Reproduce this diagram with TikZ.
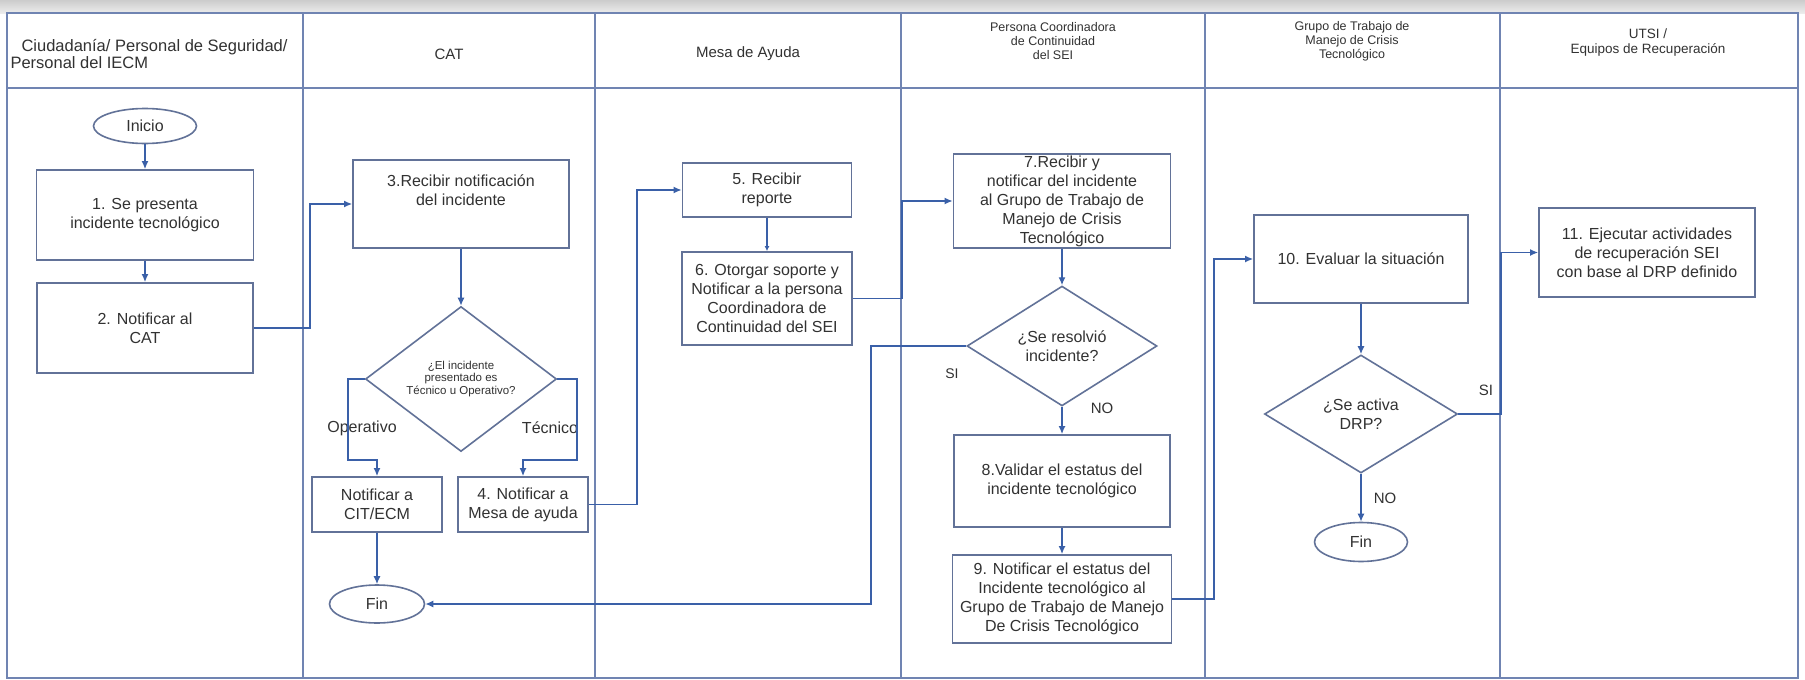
\documentclass[tikz,border=0pt]{standalone}
\usepackage{fontspec}
\setmainfont{Liberation Sans}
\usetikzlibrary{shapes.geometric,arrows.meta}
\definecolor{lanec}{RGB}{112,132,178}
\definecolor{boxc}{RGB}{98,114,152}
\definecolor{linkc}{RGB}{58,96,168}
\definecolor{txtc}{RGB}{50,50,50}

\begin{document}
\begin{tikzpicture}[x=1pt,y=-1pt,
  every node/.style={text=txtc},
  txt/.style={font=\fontsize{16}{19}\selectfont},
  stepbox/.style={draw=boxc, line width=1.8pt, fill=white, rectangle, align=center, inner sep=2pt, txt},
  term/.style={draw=boxc, line width=1.6pt, ellipse, fill=white, inner sep=0pt, txt},
  decide/.style={draw=boxc, line width=1.6pt, diamond, fill=white, inner sep=0pt, align=center, txt},
  link/.style={draw=linkc, line width=1.4pt, -{Latex[length=8pt,width=7pt]}},
  lane/.style={draw=lanec, line width=1.6pt},
  tag/.style={font=\fontsize{15}{18}\selectfont},
]
\useasboundingbox (0,0) rectangle (1805,680);
\fill[white] (0,0) rectangle (1805,680);
\fill[top color=gray!40, bottom color=gray!15] (0,0) rectangle (1805,13);

% swimlane frame
\draw[lane] (7,13) rectangle (1798,678);
\draw[lane] (7,88) -- (1798,88);
\foreach \lx in {303,595,901,1205,1500} \draw[lane] (\lx,13) -- (\lx,678);

% lane headings
\node[anchor=west, align=left, font=\fontsize{16.5}{15}\selectfont] (h1) at (7,54)
  {\hspace*{11pt}Ciudadanía/ Personal de Seguridad/\\Personal del IECM};
\node[font=\fontsize{15}{17}\selectfont] (h2) at (449,54) {CAT};
\node[font=\fontsize{15}{17}\selectfont] (h3) at (748,54) {Mesa de Ayuda};
\node[align=center, font=\fontsize{12.5}{14}\selectfont] (h4) at (1053,41)
  {Persona Coordinadora\\de Continuidad\\del SEI};
\node[align=center, font=\fontsize{12.5}{14}\selectfont] (h5) at (1352,41)
  {Grupo de Trabajo de\\Manejo de Crisis\\Tecnológico};
\node[align=center, font=\fontsize{13.5}{15}\selectfont] (h6) at (1648,43)
  {UTSI /\\Equipos de Recuperación};

% lane 1
\node[term, minimum width=103pt, minimum height=35pt] (ini) at (145,126) {Inicio};
\node[stepbox, minimum width=217pt, minimum height=90pt] (b1) at (145,215)
  {1. Se presenta\\incidente tecnológico};
\node[stepbox, minimum width=216pt, minimum height=90pt] (b2) at (145,328)
  {2. Notificar al\\CAT};

% lane 2
\node[stepbox, minimum width=216pt, minimum height=88pt] (b3) at (461,204)
  {\parbox[c][84pt][t]{210pt}{\centering\vspace*{13pt}3.Recibir notificación\\del incidente}};
\node[decide, minimum width=191pt, minimum height=118pt,
      font=\fontsize{11.5}{12.5}\selectfont] (d1) at (461,379)
  {¿El incidente\\presentado es\\Técnico u Operativo?};
\node[stepbox, minimum width=130pt, minimum height=55pt] (cit) at (377,504.5)
  {Notificar a\\CIT/ECM};
\node[stepbox, minimum width=130pt, minimum height=55pt] (b4) at (523,504.5)
  {4. Notificar a\\Mesa de ayuda};
\node[term, minimum width=95pt, minimum height=38pt] (fin1) at (377,604) {Fin};
\node[txt] (op) at (362,428) {Operativo};
\node[txt] (tec) at (550,428) {Técnico};

% lane 3
\node[stepbox, minimum width=169pt, minimum height=54pt] (b5) at (767,190)
  {5. Recibir\\reporte};
\node[stepbox, minimum width=170pt, minimum height=93pt] (b6) at (767,298.5)
  {6. Otorgar soporte y\\Notificar a la persona\\Coordinadora de\\Continuidad del SEI};

% lane 4
\node[stepbox, minimum width=217pt, minimum height=94pt, inner sep=0pt] (b7) at (1062,201)
  {7.Recibir y\\notificar del incidente\\al Grupo de Trabajo de\\Manejo de Crisis\\Tecnológico};
\node[decide, minimum width=190pt, minimum height=118pt] (d2) at (1062,346)
  {¿Se resolvió\\incidente?};
\node[stepbox, minimum width=216pt, minimum height=92pt] (b8) at (1062,481)
  {8.Validar el estatus del\\incidente tecnológico};
\node[stepbox, minimum width=219pt, minimum height=88pt, inner sep=0pt] (b9) at (1062,599)
  {9. Notificar el estatus del\\Incidente tecnológico al\\Grupo de Trabajo de Manejo\\De Crisis Tecnológico};
\node[font=\fontsize{14}{16}\selectfont] (si1) at (952,374) {SI};
\node[tag] (no1) at (1102,408) {NO};

% lane 5
\node[stepbox, minimum width=214pt, minimum height=88pt] (b10) at (1361,259)
  {10. Evaluar la situación};
\node[decide, minimum width=193pt, minimum height=118pt] (d3) at (1361,414)
  {¿Se activa\\DRP?};
\node[term, minimum width=93pt, minimum height=39pt] (fin2) at (1361,542) {Fin};
\node[tag] (si2) at (1486,390) {SI};
\node[tag] (no2) at (1385,498) {NO};

% lane 6
\node[stepbox, minimum width=216pt, minimum height=89pt] (b11) at (1647,252.5)
  {11. Ejecutar actividades\\de recuperación SEI\\con base al DRP definido};

% bend points of the connectors
\coordinate (j1) at (310,0);
\coordinate (opL) at (348,460);
\coordinate (teR) at (577,460);
\coordinate (k1) at (637,0);
\coordinate (k2) at (902,0);
\coordinate (k3) at (871,0);
\coordinate (k4) at (1214,0);
\coordinate (k5) at (1501,0);

% connectors
\draw[link] (ini) -- (b1);
\draw[link] (b1) -- (b2);
\draw[link] (b2.east) -- (b2.east -| j1) -- (j1 |- b3.west) -- (b3.west);
\draw[link] (b3) -- (d1);
\draw[link] (d1.west) -| (opL) -| (cit.north);
\draw[link] (d1.east) -| (teR) -| (b4.north);
\draw[link] (cit) -- (fin1);
\draw[link] (b4.east) -- (b4.east -| k1) -- (k1 |- b5.west) -- (b5.west);
\draw[link, -{Latex[length=5pt,width=5pt]}] (b5) -- (b6);
\draw[link] (b6.east) -- (b6.east -| k2) -- (k2 |- b7.west) -- (b7.west);
\draw[link] (b7) -- (d2);
\draw[link] (d2.west) -- (d2.west -| k3) -- (k3 |- fin1.east) -- (fin1.east);
\draw[link] (d2) -- (b8);
\draw[link] (b8) -- (b9);
\draw[link] (b9.east) -- (b9.east -| k4) -- (k4 |- b10.west) -- (b10.west);
\draw[link] (b10) -- (d3);
\draw[link] (d3) -- (fin2);
\draw[link] (d3.east) -- (d3.east -| k5) -- (k5 |- b11.west) -- (b11.west);
\end{tikzpicture}
\end{document}
